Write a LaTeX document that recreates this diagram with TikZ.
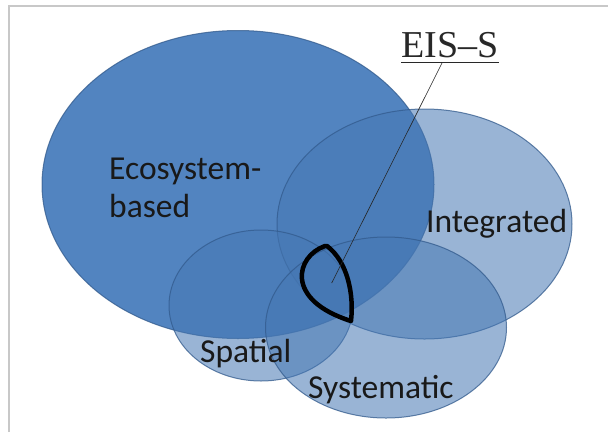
\documentclass[tikz,border=0pt]{standalone}
\usepackage{fontspec}
\setmainfont{Carlito}
\newfontfamily\eisfont{Liberation Serif}
\usetikzlibrary{shapes.geometric}
\definecolor{ecoblue}{RGB}{82,132,192}
\definecolor{setblue}{RGB}{70,120,180}
\definecolor{edgeblue}{RGB}{50,90,140}
\definecolor{framegray}{RGB}{200,200,200}
\definecolor{eisgray}{RGB}{40,40,40}
\tikzset{
  venn/.style={ellipse, inner sep=0pt, draw=edgeblue, line width=1pt, draw opacity=0.75},
  setfill/.style={venn, fill=setblue, fill opacity=0.55},
  lbl/.style={inner sep=0pt, anchor=base west, align=left, text=black!90,
              font=\fontsize{33.5}{38}\selectfont},
  leafline/.style={line width=4.5pt, line join=round, line cap=round, black}
}
\begin{document}
\begin{tikzpicture}[x=1pt,y=-1pt]
\useasboundingbox (0,0) rectangle (608,432);
\fill[white] (0,0) rectangle (608,432);
\draw[framegray, line width=1.5pt] (9,432) -- (9,6) -- (608,6);
% sets
\node[venn, fill=ecoblue, minimum width=392pt, minimum height=308pt] (eco) at (238,184.5) {};
\node[setfill, minimum width=295pt, minimum height=230pt] (integ) at (424.5,224) {};
\node[setfill, minimum width=184pt, minimum height=151pt] (spat) at (261,305.5) {};
\node[setfill, minimum width=241pt, minimum height=181pt] (syst) at (386,327.5) {};
% labels
\node[lbl] (ecolbl) at (109,217.3) {Ecosystem-\\based};
\node[lbl] (intlbl) at (426,232.3) {Integrated};
\node[lbl] (spalbl) at (200,362.7) {Spatial};
\node[lbl] (syslbl) at (308,398.3) {Systematic};
% EIS-S intersection
\draw[leafline] (325,246) .. controls (296,256) and (284,300) .. (351,321)
                .. controls (354,295) and (348,262) .. (327,246) -- cycle;
\coordinate (leaf) at (331.7,283);
% EIS-S label
\node[inner sep=0pt, anchor=base west, text=eisgray,
      font=\eisfont\fontsize{38}{40}\selectfont] (eis) at (401,57) {EIS–S};
\draw[eisgray, line width=1.3pt] ([yshift=-5.5pt]eis.base west) -- ([yshift=-5.5pt]eis.base east);
\coordinate (lead) at (442,63);
\draw[black!85, line width=0.6pt] (lead) -- (leaf);
\end{tikzpicture}
\end{document}
